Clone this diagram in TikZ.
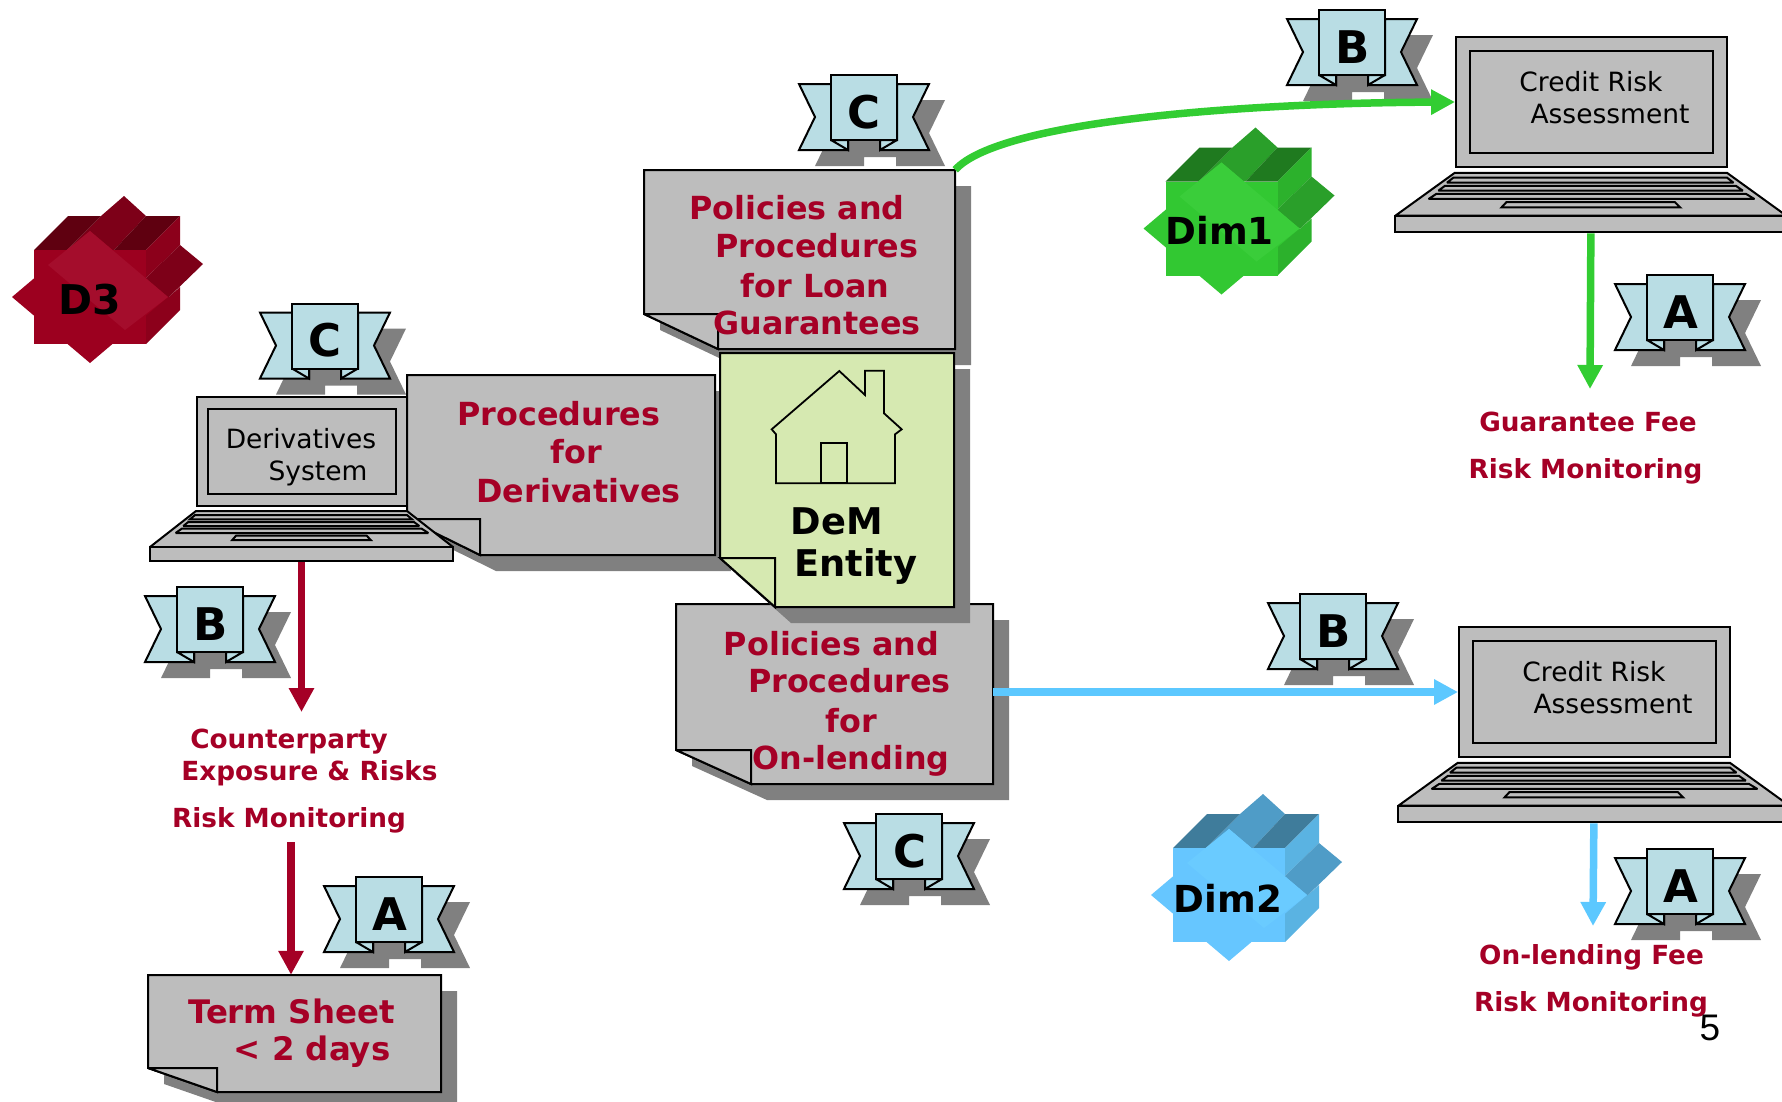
\documentclass[tikz,border=0pt]{standalone}
\usepackage{fontspec}
\setmainfont{DejaVu Sans}
\newfontfamily\pagenofont{Liberation Sans}
\usetikzlibrary{arrows.meta}

\definecolor{sheetgrey}{HTML}{BDBDBD}
\definecolor{shadowgrey}{HTML}{808080}
\definecolor{entitygreen}{HTML}{D6E9B1}
\definecolor{ribbonblue}{HTML}{B9DDE4}
\definecolor{labelred}{HTML}{A50026}
\definecolor{arrowgreen}{HTML}{32CD32}
\definecolor{arrowblue}{HTML}{5CC8FF}

\definecolor{redsquare}{HTML}{9C001F}
\definecolor{reddiamond}{HTML}{A40D2C}
\definecolor{reddark}{HTML}{5F0010}
\definecolor{redmid}{HTML}{7D0018}
\definecolor{redside}{HTML}{8C001B}
\definecolor{greensquare}{HTML}{32C832}
\definecolor{greendiamond}{HTML}{3ACD3A}
\definecolor{greendark}{HTML}{1F7A1F}
\definecolor{greenmid}{HTML}{2A9F2A}
\definecolor{greenside}{HTML}{2CB12C}
\definecolor{bluesquare}{HTML}{66C6FF}
\definecolor{bluediamond}{HTML}{6ACBFF}
\definecolor{bluedark}{HTML}{3F7C9B}
\definecolor{bluemid}{HTML}{4F9CC7}
\definecolor{blueside}{HTML}{5AB3E2}

\def \shadowsep {16}

\tikzstyle{outline}=[draw=black, line width=2pt, line join=miter, miter limit=3]
\tikzstyle{bigred}=[anchor=base, inner sep=0, text=labelred, font=\fontsize{31.8}{32}\selectfont\bfseries]
\tikzstyle{smallred}=[anchor=base, inner sep=0, text=labelred, font=\fontsize{26.3}{27}\selectfont\bfseries]
\tikzstyle{screentext}=[anchor=base, inner sep=0, font=\fontsize{26.5}{27}\selectfont]
\tikzstyle{entitytext}=[anchor=base, inner sep=0, font=\fontsize{36.8}{37}\selectfont\bfseries]
\tikzstyle{startext}=[anchor=base, inner sep=0, font=\fontsize{37.2}{38}\selectfont\bfseries]
\tikzstyle{letter}=[anchor=base, inner sep=0, font=\fontsize{45}{46}\selectfont\bfseries]
\tikzstyle{flow}=[-{Triangle[length=24pt, width=24pt]}, line width=7.5pt]

% name, left, top, right, bottom, fold x, fold y, fill
\newcommand{\notesheet}[8]{
    \fill[shadowgrey, shift={(\shadowsep,\shadowsep)}] (#2,#3) -- (#4,#3) -- (#4,#5) -- (#6,#5) -- (#2,#7) -- cycle;
    \path[outline, fill=#8] (#2,#3) -- (#4,#3) -- (#4,#5) -- (#6,#5) -- (#2,#7) -- cycle;
    \path[outline, fill=#8] (#2,#7) -- (#6,#7) -- (#6,#5) -- cycle;
    \node[inner sep=0, minimum width={(#4-#2)*1pt}, minimum height={(#5-#3)*1pt}] (#1) at ({(#2+#4)/2},{(#3+#5)/2}) {};
}

% name, x, y, letter
\newcommand{\ribbon}[4]{
    \begin{scope}[shift={(#2,#3)}]
        \fill[shadowgrey, shift={(\shadowsep,\shadowsep)}] (-65,-23) -- (-33,-23) -- (-33,-32) -- (33,-32) -- (33,-23) -- (65,-23) -- (49,10) -- (65,43) -- (16,43) -- (16,34) -- (-16,34) -- (-16,43) -- (-65,43) -- (-49,10) -- cycle;
        \path[outline, fill=ribbonblue] (-33,-23) -- (-65,-23) -- (-49,10) -- (-65,43) -- (-16,43) -- (-16,33) -- (-33,33) -- cycle;
        \path[outline, fill=ribbonblue] (33,-23) -- (65,-23) -- (49,10) -- (65,43) -- (16,43) -- (16,33) -- (33,33) -- cycle;
        \path[outline, fill=ribbonblue] (-33,33) -- (-16,43) -- (-16,33) -- cycle;
        \path[outline, fill=ribbonblue] (33,33) -- (16,43) -- (16,33) -- cycle;
        \path[outline, fill=ribbonblue] (-33,-32) rectangle (33,33);
        \node[letter] (#1) at (0.5,21) {#4};
    \end{scope}
}

% name, x, y, xscale, yscale
\newcommand{\laptop}[5]{
    \begin{scope}[shift={(#2,#3)}, xscale=#4, yscale=#5]
        \path[outline, fill=sheetgrey] (-152,95.5) -- (-106,59.5) -- (105,59.5) -- (151,95.5) -- cycle;
        \path[outline, fill=sheetgrey] (-112,67.8) -- (-107,63.5) -- (105,63.5) -- (110,67.8) -- cycle;
        \path[outline, fill=sheetgrey] (-118.7,74.5) -- (-113.7,70.5) -- (112,70.5) -- (117.3,74.5) -- cycle;
        \path[outline, fill=sheetgrey] (-126.3,81.5) -- (-120.3,77.2) -- (119.7,77.2) -- (126.3,81.5) -- cycle;
        \path[outline, fill=sheetgrey] (-69.7,88.5) -- (-66,84.2) -- (64.7,84.2) -- (68.7,88.5) -- cycle;
        \node[outline, fill=sheetgrey, inner sep=0, minimum width={#4*303pt}, minimum height={#5*14pt}] (#1b) at (-0.5,102.5) {};
        \node[outline, fill=sheetgrey, inner sep=0, minimum width={#4*210pt}, minimum height={#5*109pt}] (#1) at (0,0) {};
        \node[outline, fill=sheetgrey, inner sep=0, minimum width={#4*188pt}, minimum height={#5*85pt}] (#1s) at (0,0) {};
    \end{scope}
}

% x, y, colour prefix
\newcommand{\starblock}[3]{
    \begin{scope}[shift={(#1,#2)}]
        \fill[#3mid] (-23,-47) -- (11,-81) -- (34,-101) -- (56,-81) -- (24,-47) -- cycle;
        \fill[#3dark] (-56,-47) -- (-22,-81) -- (11,-81) -- (-23,-47) -- cycle;
        \fill[#3dark] (24,-47) -- (56,-81) -- (90,-81) -- (56,-47) -- cycle;
        \fill[#3side] (56,-47) -- (90,-81) -- (90,-52) -- (56,-19) -- cycle;
        \fill[#3side] (79,0) -- (90,-10) -- (90,13) -- (56,47) -- (56,0) -- cycle;
        \fill[#3mid] (56,-19) -- (90,-52) -- (113,-33) -- (79,0) -- (56,0) -- cycle;
        \fill[#3square] (-56,-47) rectangle (56,47);
        \fill[#3square] (-78,0) -- (0,-66) -- (78,0) -- (0,66) -- cycle;
        \fill[#3diamond] (-42,-32) -- (0,-66) -- (78,0) -- (35,33) -- cycle;
    \end{scope}
}

\begin{document}
\begin{tikzpicture}[x=1pt, y=-1pt]

\useasboundingbox (0,0) rectangle (1782,1101);

% dimension stars
\starblock{90}{297}{red}
\starblock{1221.5}{228.5}{green}
\starblock{1229}{895}{blue}
\node[startext, font=\fontsize{41}{42}\selectfont\bfseries] (D3) at (90,314) {D3};
\node[startext] (Dim1) at (1219.5,244) {Dim1};
\node[startext] (Dim2) at (1228,912) {Dim2};

% ribbons under the sheets
\ribbon{C1}{325}{335.5}{C}
\ribbon{C2}{864}{107}{C}
\ribbon{C3}{909}{846}{C}

% sheets
\notesheet{N2}{407}{375}{715}{555}{480}{519}{sheetgrey}
\notesheet{N1}{644}{170}{955}{349}{718}{314}{sheetgrey}
\notesheet{N3}{676}{604}{993}{784}{751}{750}{sheetgrey}
\notesheet{E}{720}{353}{954}{607}{775}{558}{entitygreen}
\notesheet{T}{148}{975}{441}{1092}{217}{1068}{sheetgrey}

% the house
\draw[line width=1.8pt, line join=miter] (771.7,429.3) -- (776,434.3) -- (776,483.3) -- (895,483.3) -- (895,434.3) -- (901.7,429.3) -- (884,413.3) -- (884,370.7) -- (865,370.7) -- (865,395) -- (839.3,371) -- cycle;
\draw[line width=1.8pt] (820.7,483.3) rectangle (847,443.3);

\node[entitytext] (dem) at (837,534) {DeM};
\node[entitytext] (ent) at (856,576) {Entity};

% laptops
\laptop{L1}{302}{451.5}{1}{1}
\laptop{L2}{1591.5}{102}{1.29}{1.19}
\laptop{L3}{1594.5}{692}{1.29}{1.19}

% remaining ribbons
\ribbon{B1}{210}{619}{B}
\ribbon{A1}{389}{909}{A}
\ribbon{B2}{1352}{42}{B}
\ribbon{A2}{1680}{307}{A}
\ribbon{B3}{1333}{626}{B}
\ribbon{A3}{1680}{881}{A}

% texts
\foreach \x/\y/\t [count=\i] in {797/219/Policies and, 817/257/Procedures, 815/297/for Loan, 817/334/Guarantees}
    \node[bigred] (pa\i) at (\x,\y) {\t};

\foreach \x/\y/\t [count=\i] in {559/425/Procedures, 576/463/for, 578.5/502/Derivatives}
    \node[bigred] (pb\i) at (\x,\y) {\t};

\foreach \x/\y/\t [count=\i] in {831.5/655/Policies and, 849.5/692/Procedures, 851/732/for, 851/769/On-lending}
    \node[bigred] (pc\i) at (\x,\y) {\t};

\foreach \x/\y/\t [count=\i] in {291.5/1023/Term Sheet, 312/1060/< 2 days}
    \node[bigred, font=\fontsize{32.4}{33}\selectfont\bfseries] (ts\i) at (\x,\y) {\t};

\foreach \x/\y/\t [count=\i] in {289/748/Counterparty, 309.5/780/Exposure \& Risks, 289/827/Risk Monitoring, 1588/431/Guarantee Fee, 1585.5/478/Risk Monitoring, 1591.5/964/On-lending Fee, 1591/1011/Risk Monitoring}
    \node[smallred] (rl\i) at (\x,\y) {\t};

\foreach \x/\y/\t [count=\i] in {301/448/Derivatives, 318/480/System, 1591/91/Credit Risk, 1610/123/Assessment, 1594/681/Credit Risk, 1613/713/Assessment}
    \node[screentext] (st\i) at (\x,\y) {\t};

\node[anchor=base, inner sep=0, font=\pagenofont\fontsize{37}{37}\selectfont] (pageno) at (1710,1040) {5};

% connectors
\coordinate (cp) at (301.5,712);
\coordinate (rm) at (291,842);
\coordinate (gf) at (1590,389);
\coordinate (of) at (1593,926);

\draw[flow, labelred] (L1b.south) -- (cp);
\draw[flow, labelred] (rm) -- (rm |- T.north);
\draw[flow, arrowgreen] (N1.north east) .. controls (1000,120) and (1250,103) .. (L2.west);
\draw[flow, arrowgreen] (L2b.south) -- (gf);
\draw[flow, arrowblue] (N3.east |- L3.west) -- (L3.west);
\draw[flow, arrowblue] (L3b.south) -- (of);

\end{tikzpicture}
\end{document}
